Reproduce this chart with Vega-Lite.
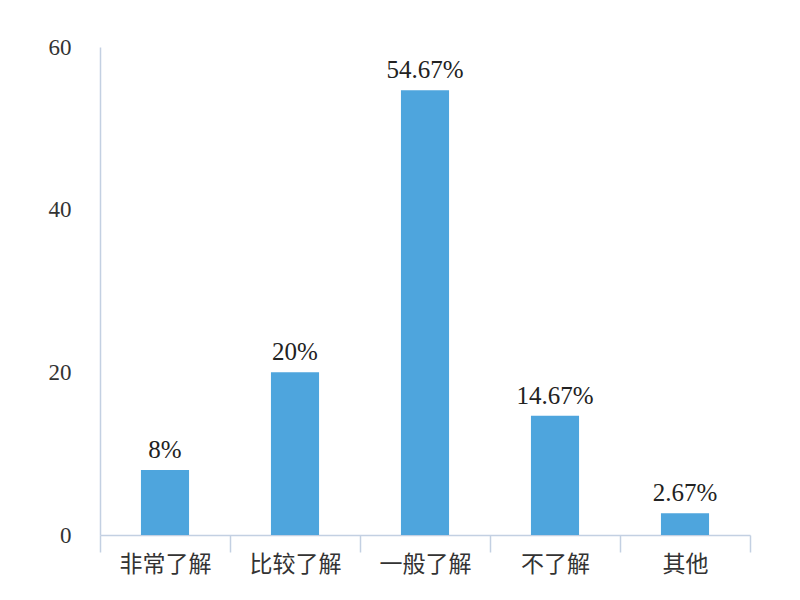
{
  "$schema": "https://vega.github.io/schema/vega-lite/v6.json",
  "autosize": "none",
  "width": 650,
  "height": 488,
  "padding": {"left": 100, "top": 47, "right": 50, "bottom": 65},
  "background": "white",
  "data": {"values": [
    {"cat": "非常了解", "value": 8, "label": "8%"},
    {"cat": "比较了解", "value": 20, "label": "20%"},
    {"cat": "一般了解", "value": 54.67, "label": "54.67%"},
    {"cat": "不了解", "value": 14.67, "label": "14.67%"},
    {"cat": "其他", "value": 2.67, "label": "2.67%"}
  ]},
  "config": {"view": {"stroke": null}},
  "encoding": {
    "x": {"field": "cat", "type": "nominal", "sort": null,
      "scale": {"paddingInner": 0, "paddingOuter": 0},
      "axis": {"title": null, "labelAngle": 0, "labelFont": "Noto Sans CJK SC", "labelFontSize": 23, "labelColor": "#333333",
        "domainColor": "#c3d0e2", "domainWidth": 1.5, "tickColor": "#c3d0e2", "tickWidth": 1.5, "tickSize": 17, "tickBand": "extent", "labelPadding": 1}},
    "y": {"field": "value", "type": "quantitative",
      "scale": {"domain": [0, 60], "nice": false},
      "axis": {"title": null, "values": [0, 20, 40, 60], "grid": false, "ticks": false, "labelFont": "Liberation Serif", "labelFontSize": 23, "labelColor": "#333333", "labelPadding": 29,
        "domainColor": "#c3d0e2", "domainWidth": 1.5}}
  },
  "layer": [
    {"mark": {"type": "bar", "color": "#4ea5dd", "width": {"band": 0.37}}},
    {"mark": {"type": "text", "baseline": "bottom", "dy": -7, "font": "Liberation Serif", "fontSize": 25, "color": "#222222"},
      "encoding": {"text": {"field": "label"}}}
  ]
}
